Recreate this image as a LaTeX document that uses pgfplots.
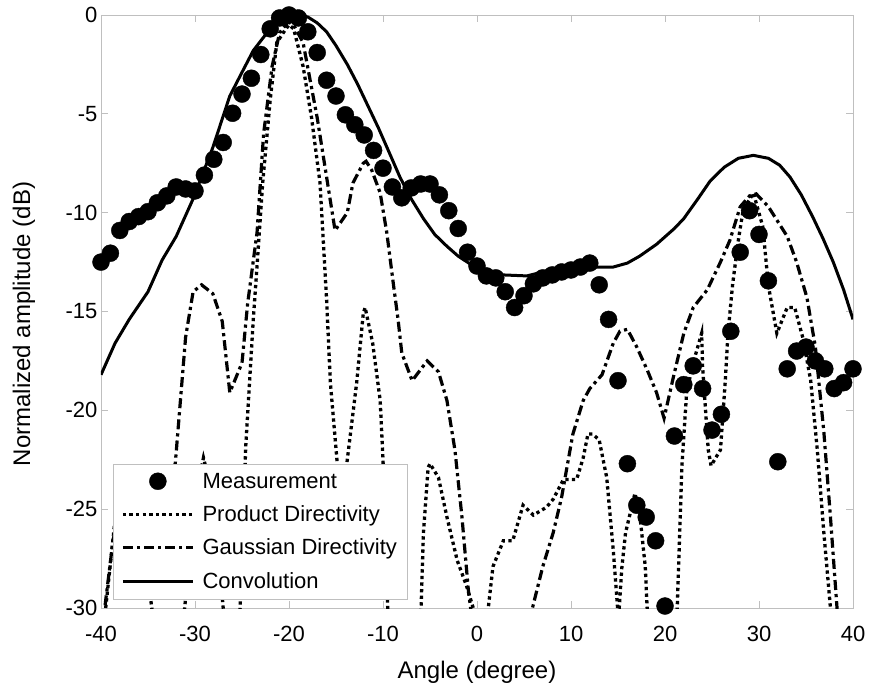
\documentclass[border=0pt]{standalone}
\usepackage{fontspec}
\setmainfont{Liberation Sans}
\usepackage{pgfplots}
\pgfplotsset{compat=1.18}
\pgfplotsset{
    legline/.style={legend image code/.code={\draw[##1] (0pt,0pt) -- (70pt,0pt);}},
    legmark/.style={legend image code/.code={\draw[##1] plot coordinates {(35pt,0pt)};}},
}
\begin{document}
\begin{tikzpicture}
\begin{axis}[
    name=ax,
    scale only axis, width=752pt, height=593pt,
    xmin=-40, xmax=40, ymin=-30, ymax=0,
    xtick={-40,-30,...,40}, ytick={-30,-25,...,0},
    axis line style={black!25, line width=0.8pt},
    tick style={black!25, line width=0.8pt}, major tick length=7pt,
    /pgf/number format/assume math mode=true,
    tick label style={font=\fontsize{22}{26}\selectfont},
    xticklabel style={yshift=-15pt},
    label style={font=\fontsize{24}{28}\selectfont},
    xlabel={Angle (degree)}, ylabel={Normalized amplitude (dB)},
    xlabel style={at={(axis description cs:0.5,0)}, anchor=base, yshift=-70pt},
    ylabel style={at={(axis description cs:-0.1024,0.479)}, anchor=center},
    clip mode=individual,
    legend style={at={(axis cs:-38.72,-29.55)}, anchor=south west,
        draw=black!25, fill=white,
        font=\fontsize{22}{26}\selectfont, inner xsep=8pt, inner ysep=7pt,
        row sep=12pt,
        /tikz/every odd column/.append style={column sep=6pt}},
    legend cell align=left,
]
% mesure
\addplot[only marks, mark=*, mark size=8.5pt, black, legmark]
coordinates {
(-40,-12.5) (-39,-12.05) (-38,-10.9) (-37,-10.45) (-36,-10.2) (-35,-9.95)
(-34,-9.5) (-33,-9.15) (-32,-8.7) (-31,-8.8) (-30,-8.9) (-29,-8.1)
(-28,-7.3) (-27,-6.45) (-26,-4.97) (-25,-4.0) (-24,-3.2) (-23,-2.0)
(-22,-0.7) (-21,-0.15) (-20,0) (-19,-0.15) (-18,-0.85) (-17,-1.9)
(-16,-3.3) (-15,-4.1) (-14,-5.05) (-13,-5.55) (-12,-6.07) (-11,-6.85)
(-10,-7.75) (-9,-8.7) (-8,-9.25) (-7,-8.75) (-6,-8.55) (-5,-8.55)
(-4,-9.1) (-3,-9.9) (-2,-10.8) (-1,-12.0) (0,-12.7) (1,-13.2)
(2,-13.3) (3,-14.0) (4,-14.8) (5,-14.2) (6,-13.6) (7,-13.3)
(8,-13.15) (9,-13.0) (10,-12.9) (11,-12.75) (12,-12.55) (13,-13.65)
(14,-15.4) (15,-18.5) (16,-22.7) (17,-24.8) (18,-25.4) (19,-26.6)
(20,-29.9) (21,-21.3) (22,-18.7) (23,-17.75) (24,-18.9) (25,-21.0)
(26,-20.2) (27,-16.0) (28,-12.0) (29,-9.9) (30,-11.1) (31,-13.45)
(32,-22.6) (33,-17.9) (34,-17.0) (35,-16.8) (36,-17.5) (37,-17.9)
(38,-18.9) (39,-18.6) (40,-17.9)
};
\addlegendentry{Measurement}
% produit
\addplot[black, line width=3.3pt, dash pattern=on 3.3pt off 3.3pt, legline]
coordinates {
(-40,-34) (-39.5,-30) (-38.5,-25.5) (-37.5,-24) (-36.5,-24.5) (-35.5,-26.5)
(-34.6,-30) (-33,-35) (-31.1,-30) (-30,-24.5) (-29.1,-22.4) (-28,-24.5)
(-27,-30) (-26,-34) (-25.2,-30) (-24.6,-21.8) (-23.8,-15.4) (-23.4,-12.7)
(-22.8,-8.5) (-22,-4.3) (-21.3,-1.4) (-20.4,-0.75) (-20,-0.5) (-19.5,-0.7)
(-18.5,-2.6) (-17.6,-5.2) (-16.7,-8.5) (-16,-14.4) (-15.6,-18.6) (-14.9,-22.5)
(-14.4,-25) (-13.8,-22.5) (-12.8,-18.6) (-12.1,-15.1) (-11.9,-14.8) (-11.1,-16.6)
(-10.3,-19.5) (-10,-22.5) (-9.5,-30) (-7.5,-36) (-5.95,-30) (-5.7,-26.2)
(-5.2,-22.9) (-5.0,-22.7) (-4.1,-23.4) (-3.2,-25.4) (-2.1,-27.6) (-1.1,-28.9)
(-0.4,-30) (0.4,-32) (1.2,-30) (1.7,-27.9) (2.8,-26.6) (3.8,-26.6)
(4.9,-24.8) (6,-25.3) (7.4,-24.9) (8.1,-24.5) (9.2,-23.5) (10.6,-23.5)
(11.3,-22.4) (11.8,-21.2) (12.3,-21.2) (13,-21.5) (13.8,-23.4) (14.5,-27.1)
(15.05,-30.6) (15.4,-28) (15.8,-26.2) (16.8,-24.2) (17.3,-25.2) (17.9,-27.9)
(18.1,-30) (19.5,-36) (21.3,-30) (21.8,-22.8) (22.3,-19.1) (23,-17.6)
(23.9,-16.1) (24,-17.8) (24.6,-22.0) (24.9,-22.8) (25.9,-22.0) (26.4,-18.6)
(26.7,-16.1) (27.2,-13.6) (27.8,-11.4) (28.3,-9.9) (29.4,-9.0) (30.4,-10.7)
(31,-13.7) (31.9,-16.1) (33,-14.8) (33.8,-14.8) (34.7,-16.4) (35.5,-18.5)
(36.2,-22.0) (36.9,-26.2) (37.6,-30) (38,-34)
};
\addlegendentry{Product Directivity}
% gaussien
\addplot[black, line width=3.2pt, dash pattern=on 10pt off 4pt on 3.2pt off 4pt, legline]
coordinates {
(-40,-32) (-39.6,-30) (-38.7,-26.5) (-37.5,-24.5) (-36,-23.5) (-34.5,-23.6)
(-33,-23.4) (-32.1,-22.7) (-31,-16.3) (-30.2,-14.0) (-29.3,-13.65) (-28.1,-14.1)
(-27.1,-15.5) (-26.3,-19.1) (-25,-17.6) (-24.4,-14.6) (-23.4,-11.0) (-22.7,-6.0)
(-21.8,-2.6) (-21,-0.9) (-20.1,-0.35) (-19.5,-0.5) (-18.5,-1.4) (-17,-5.2)
(-16,-8.2) (-15.1,-10.9) (-13.8,-10.0) (-13.2,-8.5) (-12.1,-7.5) (-11.8,-7.4)
(-11.2,-7.85) (-10.3,-9.0) (-9.6,-11.0) (-8.9,-13.6) (-8.4,-15.4) (-8,-17.1)
(-6.9,-18.5) (-5.3,-17.5) (-4.1,-18.05) (-3.2,-19.5) (-2.35,-22.0) (-1.6,-25.4)
(-0.9,-29.2) (-0.4,-31) (2.5,-36) (5.6,-31) (5.9,-30) (7,-27.9)
(8.1,-26.2) (9,-24.4) (10.2,-21.2) (11.3,-19.5) (12,-18.9) (13.3,-18.2)
(14.5,-16.6) (15.2,-16.0) (16,-15.9) (17,-16.8) (18.1,-17.95) (19.1,-19.1)
(19.9,-20.4) (20.9,-18.3) (22,-16.1) (23,-14.8) (24.5,-13.9) (25.9,-12.5)
(26.9,-11.4) (28,-9.7) (29,-9.15) (29.7,-9.05) (31,-9.7) (33,-11.2)
(34,-12.5) (35.1,-14.3) (36,-16.8) (36.9,-21.1) (37.6,-25.4) (38.3,-30)
(38.6,-32)
};
\addlegendentry{Gaussian Directivity}
% convolution
\addplot[black, line width=3pt, legline]
coordinates {
(-40,-18.2) (-38.5,-16.6) (-37,-15.4) (-35,-14.0) (-33.5,-12.4) (-32,-11.2)
(-30.2,-9.3) (-28.1,-6.7) (-26.3,-4.1) (-25,-2.9) (-23.8,-1.8) (-22.5,-1.0)
(-21.3,-0.5) (-20,-0.05) (-19,0) (-18,-0.1) (-17,-0.4) (-16,-0.85)
(-15,-1.55) (-13.8,-2.5) (-12.7,-3.5) (-11.7,-4.5) (-10.5,-5.7) (-9.3,-7.0)
(-8.2,-8.2) (-7,-9.3) (-5.7,-10.3) (-4.5,-11.1) (-3.2,-11.7) (-2,-12.2)
(-0.4,-12.7) (1,-13.0) (2.8,-13.15) (5.3,-13.2) (7.4,-12.95) (9.5,-12.75)
(14.5,-12.75) (16,-12.55) (17.3,-12.2) (19.1,-11.6) (21,-10.8) (22,-10.3)
(23.5,-9.3) (24.8,-8.4) (26.3,-7.7) (27.8,-7.25) (29.4,-7.1) (31,-7.25)
(32.2,-7.6) (33.3,-8.2) (34.5,-9.1) (35.7,-10.2) (36.8,-11.3) (37.9,-12.5)
(39,-13.9) (40,-15.4)
};
\addlegendentry{Convolution}
\end{axis}
\pgfresetboundingbox
\path[use as bounding box] ([shift={(-101pt,-81pt)}]ax.south west)
    rectangle ([shift={(16pt,15pt)}]ax.north east);
\end{tikzpicture}
\end{document}
